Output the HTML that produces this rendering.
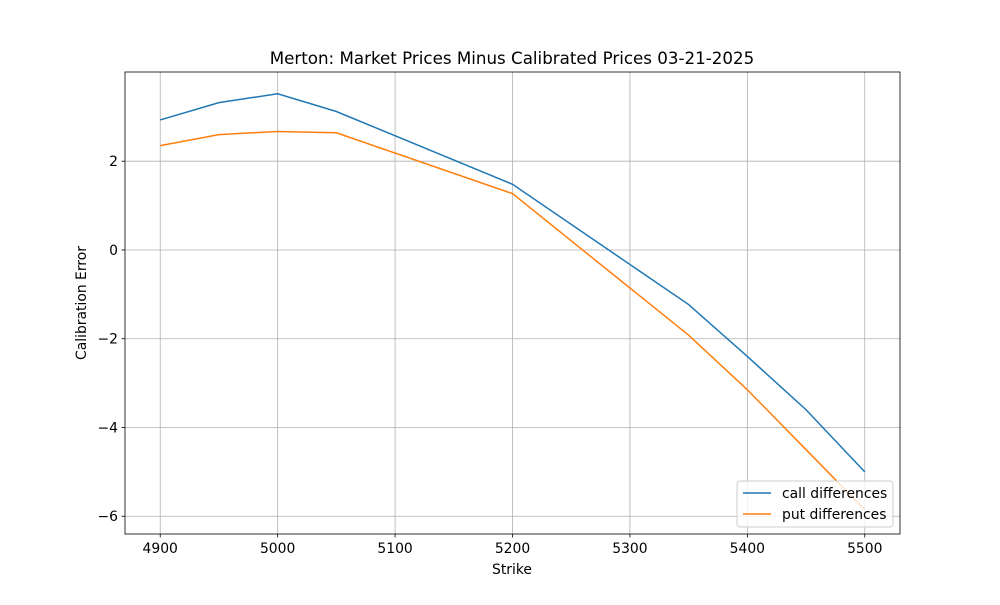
<!DOCTYPE html>
<html><head><meta charset="utf-8"><style>
body{margin:0;background:#fff;font-family:"Liberation Sans","DejaVu Sans",sans-serif}
</style></head><body>
<svg id="chart" width="1000" height="600" xmlns="http://www.w3.org/2000/svg" font-family="DejaVu Sans, Liberation Sans, sans-serif"></svg>
<script>
const strikes=[4900,4950,5000,5050,5200,5350,5400,5450,5500];
const callDiff=[2.93,3.32,3.52,3.12,1.48,-1.23,-2.4,-3.6,-5.0];
const putDiff=[2.35,2.6,2.67,2.64,1.27,-1.92,-3.15,-4.5,-5.85];
const xTicks=[4900,5000,5100,5200,5300,5400,5500];
const yTicks=[-6,-4,-2,0,2];
const L=125,R=900,T=72,B=534;
const x0=4870,x1=5530,y0=-6.4,y1=4.01;
const sx=v=>L+(v-x0)/(x1-x0)*(R-L);
const sy=v=>B-(v-y0)/(y1-y0)*(B-T);
const svg=document.getElementById('chart');
const NS='http://www.w3.org/2000/svg';
function mk(t,a,txt){const e=document.createElementNS(NS,t);for(const k in a)e.setAttribute(k,a[k]);if(txt!==undefined)e.textContent=txt;svg.appendChild(e);return e;}
let e;
xTicks.forEach(v=>{const x=sx(v);
e=mk('line',{x1:x,x2:x,y1:T,y2:B,stroke:'#b0b0b0','stroke-width':0.8});
e=mk('line',{x1:x,x2:x,y1:B,y2:B+3.5,stroke:'#000','stroke-width':0.8});
e=mk('text',{x:x,y:B+19,'font-size':13.9,'text-anchor':'middle'},v);});
yTicks.forEach(v=>{const y=sy(v);
e=mk('line',{x1:L,x2:R,y1:y,y2:y,stroke:'#b0b0b0','stroke-width':0.8});
e=mk('line',{x1:L-3.5,x2:L,y1:y,y2:y,stroke:'#000','stroke-width':0.8});
e=mk('text',{x:L-7,y:y+5,'font-size':13.9,'text-anchor':'end'},(v<0?'\u2212'+(-v):v));});
function line(d,c,n){e=mk('polyline',{points:strikes.map((s,i)=>sx(s)+','+sy(d[i])).join(' '),fill:'none',stroke:c,'stroke-width':1.5});}
line(callDiff,'#1f77b4','call-differences-line');
line(putDiff,'#ff7f0e','put-differences-line');
e=mk('rect',{x:L,y:T,width:R-L,height:B-T,fill:'none',stroke:'#000','stroke-width':0.8});
e=mk('text',{x:512,y:64,'font-size':16.7,'text-anchor':'middle'},'Merton: Market Prices Minus Calibrated Prices 03-21-2025');
e=mk('text',{x:512,y:574,'font-size':13.9,'text-anchor':'middle'},'Strike');
e=mk('text',{x:86,y:303,'font-size':13.9,'text-anchor':'middle',transform:'rotate(-90 86 303)'},'Calibration Error');
e=mk('rect',{x:737,y:481,width:156,height:46,rx:3,fill:'#fff','fill-opacity':0.8,stroke:'#ccc'});
e=mk('line',{x1:743,x2:771,y1:493,y2:493,stroke:'#1f77b4','stroke-width':1.5});
e=mk('text',{x:782,y:498,'font-size':13.9},'call differences');
e=mk('line',{x1:743,x2:771,y1:514,y2:514,stroke:'#ff7f0e','stroke-width':1.5});
e=mk('text',{x:782,y:519,'font-size':13.9},'put differences');
</script>
</body></html>
